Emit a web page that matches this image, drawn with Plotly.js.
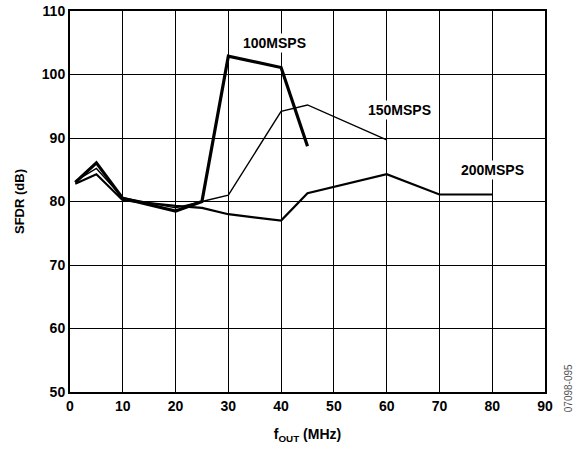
<!DOCTYPE html>
<html>
<head>
<meta charset="utf-8">
<script src="https://cdn.plot.ly/plotly-3.0.1.min.js"></script>
<style>body{margin:0;padding:0;background:#fff}#chart{width:577px;height:452px}</style>
</head>
<body>
<div id="chart"></div>
<script>
// Data
const fout100 = [1, 5, 10, 20, 25, 30, 40, 45];
const sfdr100 = [83.0, 86.1, 80.5, 78.5, 80.0, 102.9, 101.1, 88.7];
const fout150 = [1, 5, 10, 20, 25, 30, 40, 45, 60];
const sfdr150 = [83.2, 85.2, 80.6, 79.0, 80.0, 81.0, 94.2, 95.2, 89.7];
const fout200 = [1, 5, 10, 20, 25, 30, 40, 45, 60, 70, 80];
const sfdr200 = [82.8, 84.3, 80.2, 79.3, 79.0, 78.0, 77.0, 81.3, 84.3, 81.1, 81.1];
const seriesNames = ["100MSPS", "150MSPS", "200MSPS"];
const xTicks = [0, 10, 20, 30, 40, 50, 60, 70, 80, 90];
const yTicks = [50, 60, 70, 80, 90, 100, 110];

const fam = "Liberation Sans, Arial, sans-serif";
const traces = [
  {x: fout100, y: sfdr100, name: seriesNames[0], mode: "lines", line: {color: "#000", width: 3.2}},
  {x: fout150, y: sfdr150, name: seriesNames[1], mode: "lines", line: {color: "#000", width: 1.4}},
  {x: fout200, y: sfdr200, name: seriesNames[2], mode: "lines", line: {color: "#000", width: 2.2}}
];
const tf = {family: fam, size: 14, color: "#000", weight: "bold"};
const layout = {
  width: 577, height: 452,
  margin: {l: 70, r: 32, t: 11, b: 60},
  paper_bgcolor: "#fff", plot_bgcolor: "#fff",
  showlegend: false,
  font: {family: fam, color: "#000"},
  xaxis: {
    range: [0, 90], tickvals: xTicks, ticktext: xTicks.map(v => "<b>" + v + "</b>"),
    showgrid: true, gridcolor: "#000", gridwidth: 1, zeroline: false,
    showline: true, linecolor: "#000", linewidth: 2, mirror: true,
    ticks: "", tickfont: tf,
    title: {text: "<b>f<sub>OUT</sub> (MHz)</b>", font: {family: fam, size: 14, color: "#000"}, standoff: 16}
  },
  yaxis: {
    range: [50, 110], tickvals: yTicks, ticktext: yTicks.map(v => "<b>" + v + "</b>"),
    showgrid: true, gridcolor: "#000", gridwidth: 1, zeroline: false,
    showline: true, linecolor: "#000", linewidth: 2, mirror: true,
    ticks: "", tickfont: tf,
    title: {text: "<b>SFDR (dB)</b>", font: {family: fam, size: 13, color: "#000"}, standoff: 14}
  },
  annotations: [
    {x: 38.8, y: 105, xref: "x", yref: "y", text: "<b>" + seriesNames[0] + "</b>", showarrow: false, bgcolor: "#fff", font: {family: fam, size: 14, color: "#000"}},
    {x: 62.5, y: 94.4, xref: "x", yref: "y", text: "<b>" + seriesNames[1] + "</b>", showarrow: false, bgcolor: "#fff", font: {family: fam, size: 14, color: "#000"}},
    {x: 80, y: 85, xref: "x", yref: "y", text: "<b>" + seriesNames[2] + "</b>", showarrow: false, bgcolor: "#fff", font: {family: fam, size: 14, color: "#000"}},
    {x: 1, y: 0.01, xref: "paper", yref: "paper", xanchor: "center", xshift: 23, yanchor: "middle", text: "07098-095", textangle: -90, showarrow: false, font: {family: fam, size: 10, color: "#555"}}
  ]
};
Plotly.newPlot("chart", traces, layout, {displayModeBar: false, staticPlot: true});
</script>
</body>
</html>
